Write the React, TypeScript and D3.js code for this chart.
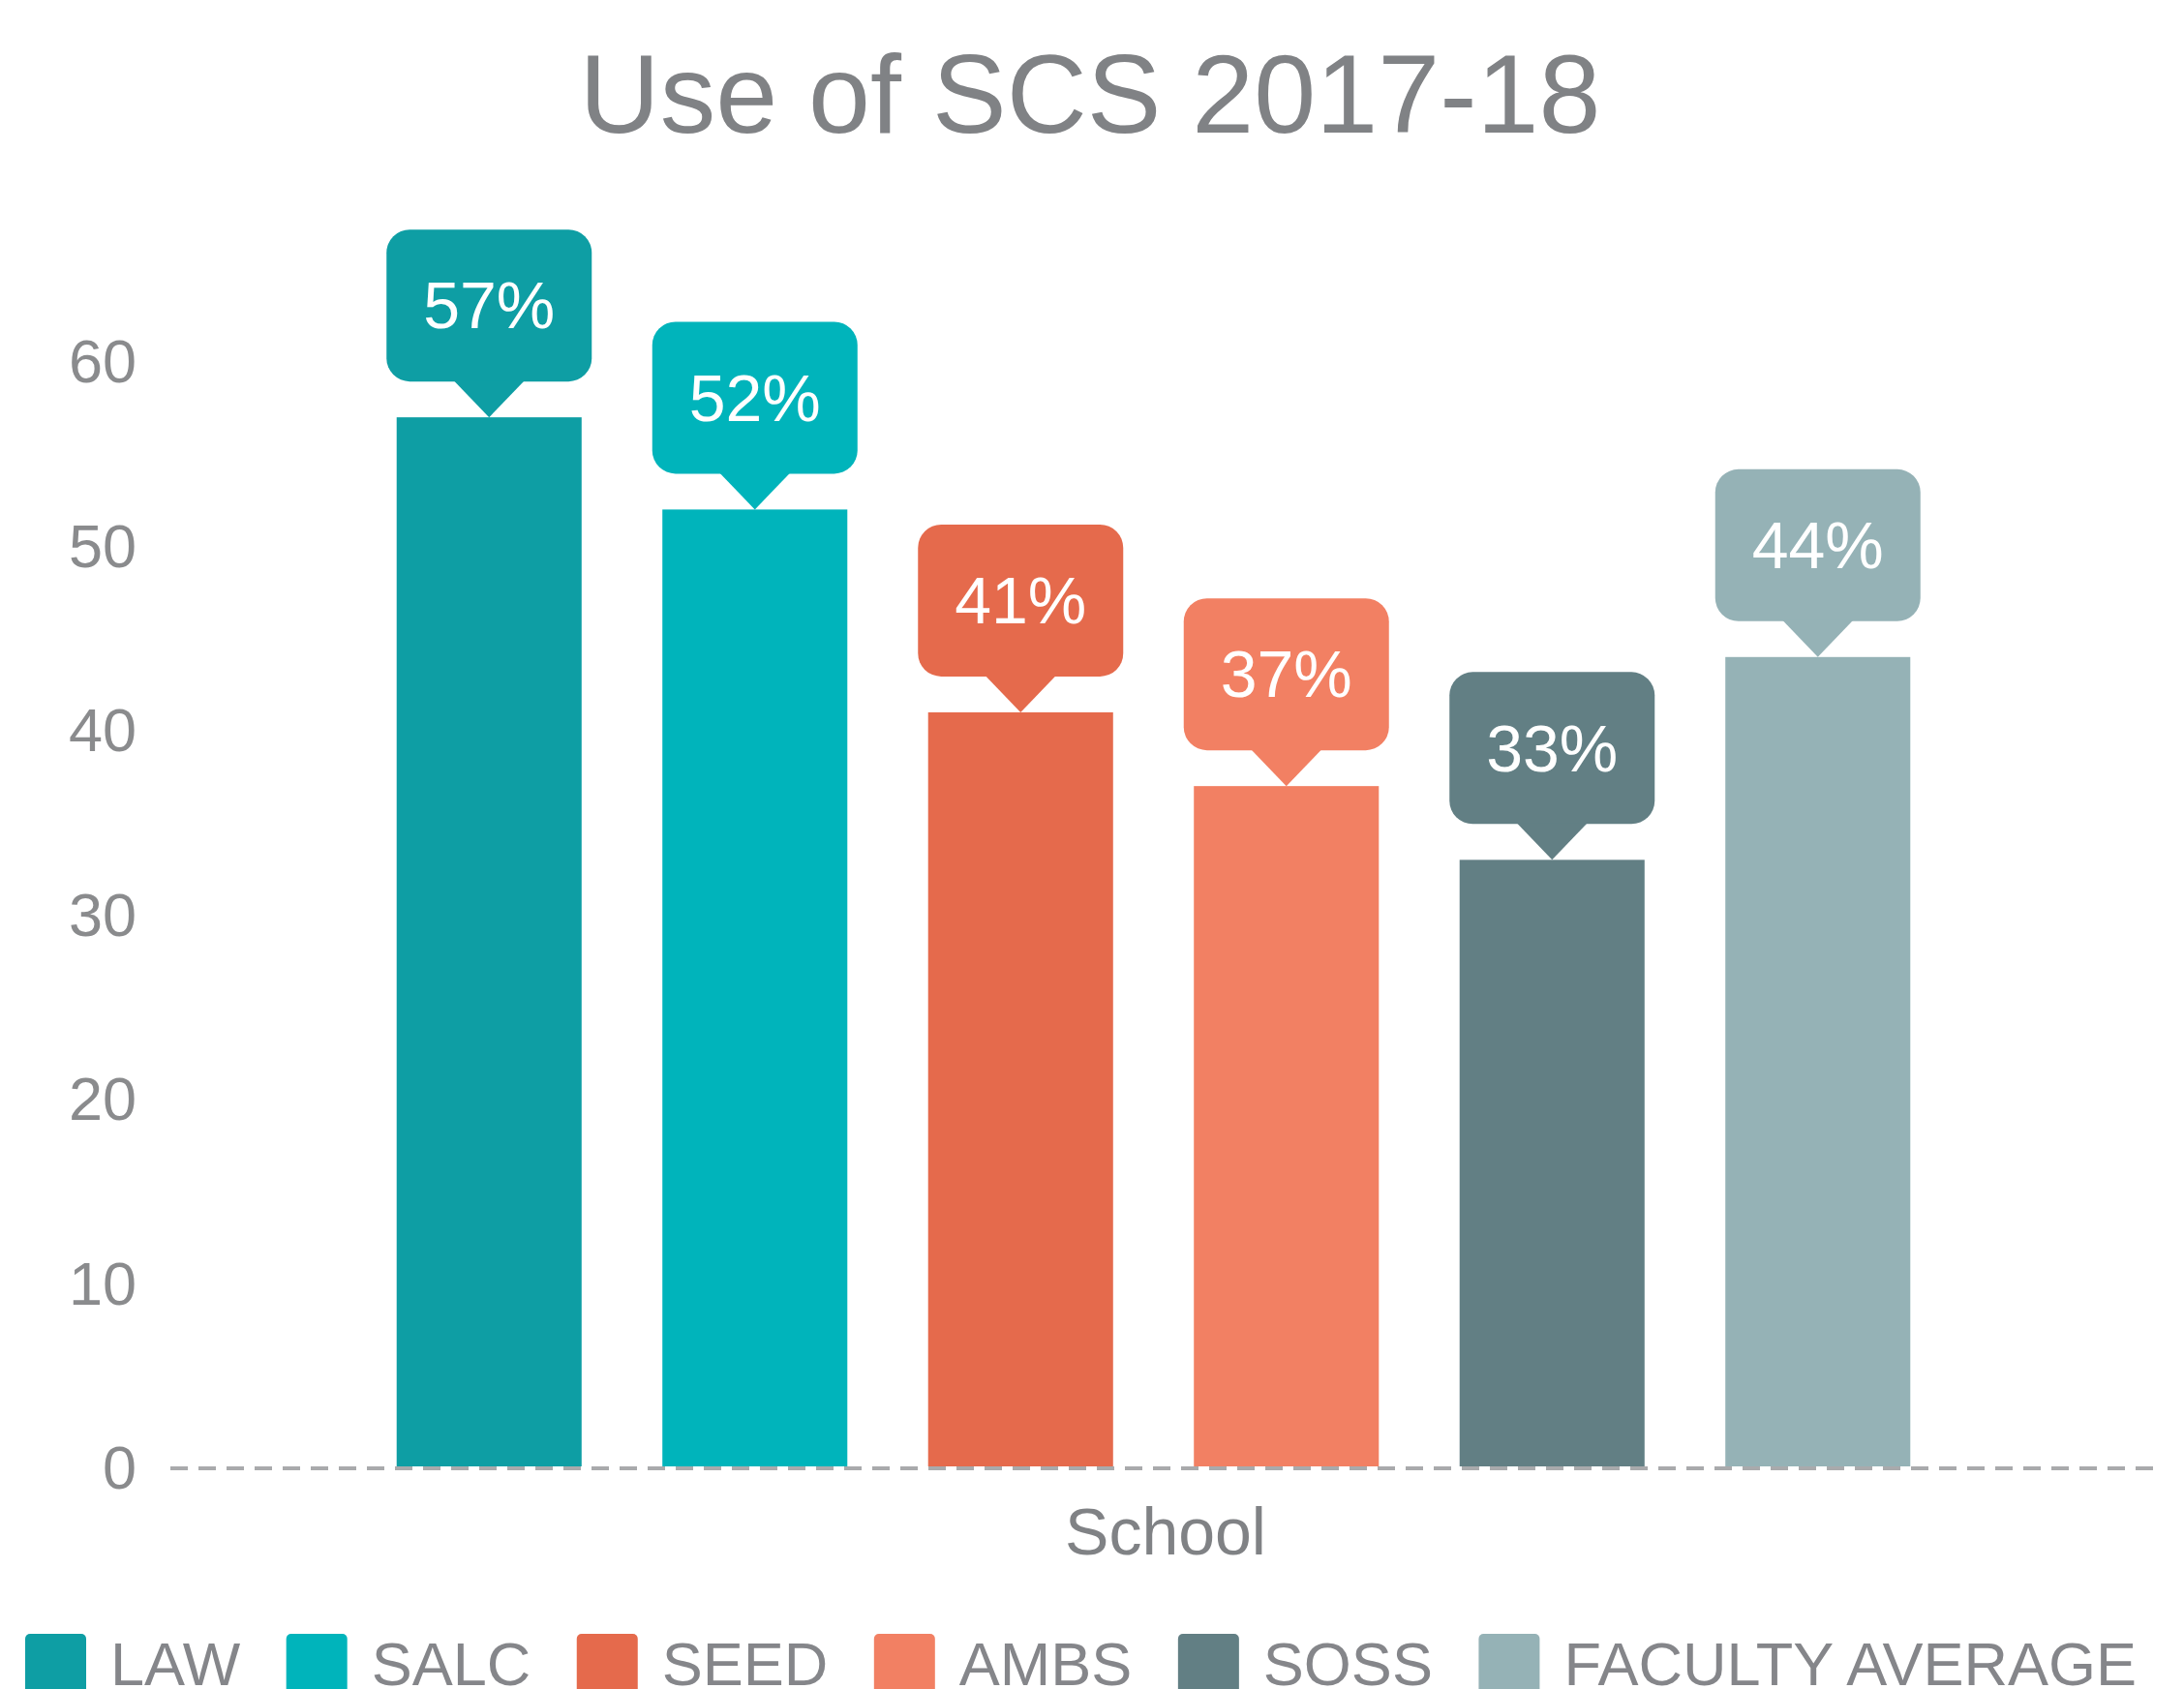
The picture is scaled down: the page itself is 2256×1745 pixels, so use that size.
import * as d3 from "d3";
import React from "react";

const schools = ["LAW", "SALC", "SEED", "AMBS", "SOSS", "FACULTY AVERAGE"];
const usage = [57, 52, 41, 37, 33, 44];
const colors = ["#0e9ea4", "#00b4bb", "#e56a4c", "#f28063", "#627f84", "#95b2b6"];
const yTicks = [0, 10, 20, 30, 40, 50, 60];

const W = 2256;
const H = 1745;
const FONT = "'Liberation Sans', Arial, Helvetica, sans-serif";

const measure = (text: string, size: number) => {
  const ctx = document.createElement("canvas").getContext("2d");
  if (!ctx) return text.length * size * 0.6;
  ctx.font = `${size}px ${FONT}`;
  return ctx.measureText(text).width;
};

export default function App() {
  const x = d3
    .scaleBand<string>()
    .domain(schools)
    .range([368, 2015])
    .paddingInner(0.304)
    .paddingOuter(0.152);
  const y = d3.scaleLinear().domain([0, 60]).range([1517, 374]);

  const bubbleW = 212;
  const bubbleH = 157;
  const tipW = 73;
  const tipH = 37;

  // legend layout: swatch, gap, text, gap
  const legendSize = 63;
  let cursor = 26;
  const legendItems = schools.map((s, i) => {
    const item = { s, i, x: cursor };
    cursor += 63 + 25 + measure(s, legendSize) + 47.5;
    return item;
  });

  return (
    <svg
      width={W}
      height={H}
      style={{ position: "absolute", left: 0, top: 0, background: "#fff" }}
      fontFamily={FONT}
    >
      <text x={1126} y={137} textAnchor="middle" fontSize={115} fill="#808285">
        Use of SCS 2017-18
      </text>

      {yTicks.map(t => (
        <text
          key={t}
          x={141}
          y={y(t)}
          dy="0.34em"
          textAnchor="end"
          fontSize={63}
          fill="#8a8b8d"
        >
          {t}
        </text>
      ))}

      {schools.map((s, i) => {
        const bx = x(s) as number;
        const bw = x.bandwidth();
        const cx = bx + bw / 2;
        const top = y(usage[i]);
        const bBottom = top - tipH;
        const bTop = bBottom - bubbleH;
        return (
          <g key={s}>
            <rect x={bx} y={top} width={bw} height={y(0) - top - 2} fill={colors[i]} />
            <rect
              x={cx - bubbleW / 2}
              y={bTop}
              width={bubbleW}
              height={bubbleH}
              rx={24}
              fill={colors[i]}
            />
            <path
              d={`M${cx - tipW / 2},${bBottom - 1}L${cx + tipW / 2},${bBottom - 1}L${cx},${top}Z`}
              fill={colors[i]}
            />
            <text
              x={cx}
              y={bTop + bubbleH / 2}
              dy="0.35em"
              textAnchor="middle"
              fontSize={68}
              fill="#fff"
            >
              {usage[i]}%
            </text>
          </g>
        );
      })}

      <line
        x1={176}
        x2={2233}
        y1={y(0)}
        y2={y(0)}
        stroke="#a9aaac"
        strokeWidth={4}
        strokeDasharray="18,11"
      />

      <text x={1204} y={1606} textAnchor="middle" fontSize={68} fill="#808285">
        School
      </text>

      {legendItems.map(({ s, i, x: lx }) => (
        <g key={s}>
          <rect x={lx} y={1688} width={63} height={80} rx={5} fill={colors[i]} />
          <text x={lx + 63 + 25} y={1741} fontSize={legendSize} fill="#85868a">
            {s}
          </text>
        </g>
      ))}
    </svg>
  );
}
